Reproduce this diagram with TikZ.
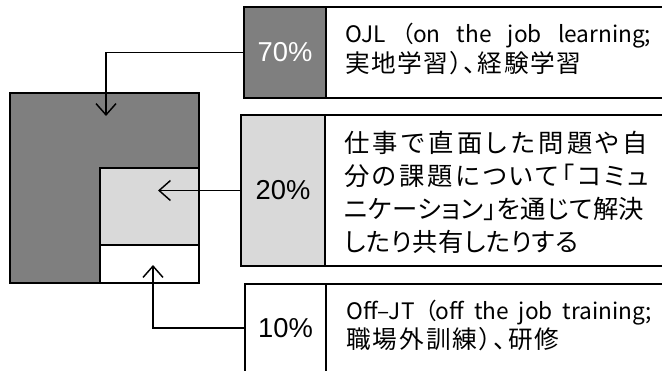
\documentclass[tikz,border=0pt]{standalone}
\usepackage{fontspec}
\setmainfont{Noto Sans CJK JP}
\newfontfamily\pctfont{Liberation Sans}
\newfontfamily\jpprop[RawFeature=+palt]{Noto Sans CJK JP}
\usetikzlibrary{arrows.meta}
\definecolor{darkg}{HTML}{7F7F7F}
\definecolor{lightg}{HTML}{D9D9D9}
\ExplSyntaxOn
\NewDocumentCommand\spreadline{mm}{\hbox~to~#1{\tl_map_inline:nn{#2}{##1\hskip~0pt~plus~1fil~minus~3pt}\unskip}}
\ExplSyntaxOff
\newcommand\latline{\fontsize{17}{22}\selectfont}
\begin{document}
\begin{tikzpicture}[x=0.75pt,y=-0.75pt,
  box/.style={draw=black, line width=1.5pt, rectangle, inner sep=0pt},
  pct/.style={box, font=\pctfont\fontsize{20.5}{24}\selectfont},
  txt/.style={anchor=west, inner sep=0pt, align=left},
  arr/.style={-{Straight Barb[length=8.5pt,width=15pt,line width=1.1pt]}, line width=1.1pt}]
\clip (0,0) rectangle (662,371);
\fill[white] (0,0) rectangle (662,371);
% left diagram
\node[box, fill=darkg, minimum width=141.75pt, minimum height=142.5pt] (big) at (104.5,188) {};
\node[box, fill=lightg, minimum width=74.25pt, minimum height=57.75pt] (mid) at (149.5,206.5) {};
\node[box, fill=white, minimum width=74.25pt, minimum height=28.5pt] (low) at (149.5,264) {};
% right boxes
\node[pct, fill=darkg, text=white, minimum width=61.5pt, minimum height=68.25pt] (p70) at (285,52.5) {70\%};
\node[box, minimum width=259.5pt, minimum height=68.25pt] (t70) at (499,52.5) {};
\node[pct, fill=lightg, minimum width=63pt, minimum height=113.25pt] (p20) at (283,190.5) {20\%};
\node[box, minimum width=260.25pt, minimum height=113.25pt] (t20) at (498.5,190.5) {};
\node[pct, fill=white, minimum width=60.75pt, minimum height=66pt] (p10) at (285.5,328) {10\%};
\node[box, minimum width=259.5pt, minimum height=66pt] (t10) at (499,328) {};
% texts
\node[txt, font=\jpprop\fontsize{18.5}{23}\selectfont] (x70) at (345,49)
  {{\latline\makebox[229.5pt][s]{OJL （on the job learning;}}\\\spreadline{177pt}{実地学習）、経験学習}};
\node[txt, font=\jpprop\fontsize{19}{24.75}\selectfont] (x20) at (344,192.5)
  {\spreadline{228pt}{仕事で直面した問題や自}\\
   \spreadline{228.75pt}{分の課題について「コミュ}\\
   \spreadline{225pt}{ニケーション」を通じて解決}\\
   \spreadline{175.5pt}{したり共有したりする}};
\node[txt, font=\jpprop\fontsize{18.5}{22}\selectfont] (x10) at (346,325.5)
  {{\latline\makebox[229pt][s]{Off–JT （off the job training;}}\\\spreadline{160pt}{職場外訓練）、研修}};
% connectors
\coordinate (h70) at (106,116);
\coordinate (h20) at (158,190.5);
\coordinate (h10) at (153,265);
\draw[arr] (p70.west) -| (h70);
\draw[arr] (p20.west) -- (h20);
\draw[arr] (p10.west) -| (h10);
\end{tikzpicture}
\end{document}
